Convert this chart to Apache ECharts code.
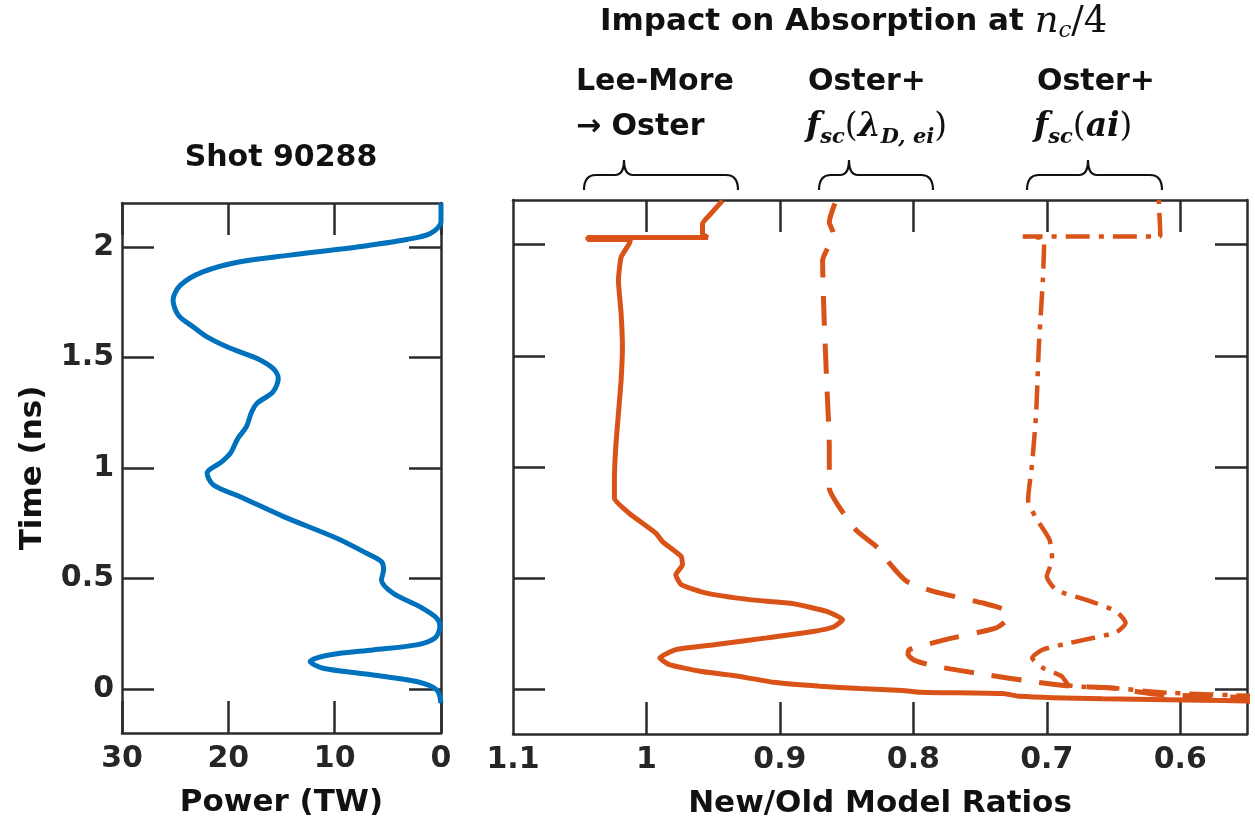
<!DOCTYPE html>
<html>
<head>
<meta charset="utf-8">
<script src="https://cdn.jsdelivr.net/npm/echarts@6/dist/echarts.min.js"></script>
<style>
  html, body { margin: 0; padding: 0; background: #ffffff; }
  #chart { width: 1255px; height: 831px; }
</style>
</head>
<body>
<div id="chart"></div>
<script>
// Laser power history of shot 90288 (time in ns, power in TW)
const powerTime = [-0.065, -0.005, 0.033, 0.063, 0.093, 0.124, 0.154, 0.176, 0.199, 0.229, 0.282, 0.320, 0.372, 0.433, 0.493, 0.538, 0.576, 0.614, 0.682, 0.780, 0.870, 0.923, 0.976, 1.029, 1.067, 1.134, 1.187, 1.255, 1.293, 1.345, 1.406, 1.451, 1.496, 1.542, 1.594, 1.639, 1.692, 1.760, 1.828, 1.888, 1.934, 1.964, 2.001, 2.035, 2.062, 2.115, 2.200];
const powerTW   = [0.0, 0.4, 2.3, 6.4, 11.1, 12.3, 10.4, 6.4, 2.3, 0.6, 0.1, 0.4, 2.0, 4.5, 5.6, 5.4, 5.6, 7.0, 9.8, 14.8, 18.9, 21.4, 22.0, 20.6, 19.8, 19.1, 18.3, 17.8, 17.3, 15.8, 15.3, 15.8, 17.3, 19.8, 22.0, 23.3, 24.7, 25.2, 24.5, 22.4, 18.9, 14.2, 7.9, 3.2, 1.0, 0.0, 0.0];

// New/old absorption ratio at n_c/4: Lee-More -> Oster
const leeMoreTime  = [-0.056, -0.052, -0.048, -0.042, -0.030, -0.018, -0.012, -0.004, 0.004, 0.015, 0.033, 0.063, 0.082, 0.112, 0.142, 0.179, 0.202, 0.232, 0.261, 0.281, 0.314, 0.351, 0.386, 0.404, 0.433, 0.471, 0.516, 0.561, 0.598, 0.665, 0.703, 0.792, 0.859, 0.942, 1.091, 1.241, 1.390, 1.540, 1.689, 1.839, 1.943, 2.003, 2.022, 2.022, 2.032, 2.032, 2.048, 2.093, 2.150, 2.197];
const leeMoreRatio = [0.540, 0.551, 0.583, 0.658, 0.721, 0.733, 0.795, 0.808, 0.840, 0.870, 0.905, 0.935, 0.960, 0.983, 0.990, 0.978, 0.948, 0.910, 0.875, 0.860, 0.853, 0.865, 0.890, 0.923, 0.955, 0.974, 0.978, 0.973, 0.974, 0.988, 0.993, 1.013, 1.024, 1.024, 1.023, 1.021, 1.019, 1.018, 1.019, 1.021, 1.019, 1.013, 1.012, 1.044, 1.044, 0.954, 0.958, 0.958, 0.950, 0.943];

// Oster + f_sc(lambda_D,ei)
const debyeTime  = [-0.037, -0.030, -0.020, 0.007, 0.015, 0.033, 0.067, 0.104, 0.131, 0.157, 0.179, 0.224, 0.277, 0.322, 0.359, 0.389, 0.441, 0.486, 0.561, 0.628, 0.717, 0.815, 0.904, 1.091, 1.390, 1.689, 1.928, 2.000, 2.050, 2.100, 2.197];
const debyeRatio = [0.540, 0.583, 0.620, 0.651, 0.683, 0.708, 0.746, 0.783, 0.799, 0.804, 0.803, 0.776, 0.738, 0.729, 0.732, 0.748, 0.785, 0.805, 0.817, 0.825, 0.843, 0.855, 0.863, 0.863, 0.865, 0.867, 0.868, 0.863, 0.860, 0.863, 0.858];

// Oster + f_sc(ai)
const ionTime  = [-0.030, -0.015, 0.007, 0.018, 0.060, 0.097, 0.142, 0.179, 0.209, 0.257, 0.299, 0.351, 0.404, 0.448, 0.508, 0.583, 0.673, 0.770, 0.852, 1.017, 1.241, 1.540, 1.839, 2.018, 2.030, 2.036, 2.036, 2.048, 2.190, 2.200];
const ionRatio = [0.540, 0.608, 0.651, 0.683, 0.689, 0.703, 0.711, 0.703, 0.683, 0.648, 0.641, 0.648, 0.671, 0.693, 0.700, 0.696, 0.698, 0.708, 0.714, 0.711, 0.708, 0.706, 0.703, 0.702, 0.703, 0.718, 0.615, 0.615, 0.616, 0.616];

// Tick positions and labels
const powerTicks = [0, 10, 20, 30];
const timeTicks  = [0, 0.5, 1, 1.5, 2];
const ratioTicks = [0.6, 0.7, 0.8, 0.9, 1.0];
const ratioLabelValues = [0.6, 0.7, 0.8, 0.9, 1.0, 1.1];

const pairs = (xs, ys) => xs.map((x, i) => [x, ys[i]]);

const FRAME = '#2b2b2b';
const SANS = '"DejaVu Sans", "Liberation Sans", sans-serif';
const SERIF = '"DejaVu Serif", "Liberation Serif", serif';
const fmt = v => String(Math.round(v * 100) / 100);

function axis(opts) {
  const a = {
    type: 'value',
    gridIndex: opts.grid,
    position: opts.position,
    min: opts.min,
    max: opts.max,
    inverse: !!opts.inverse,
    splitLine: { show: false },
    axisLine: { show: true, onZero: false, lineStyle: { color: FRAME, width: 2.5 } },
    axisTick: {
      show: true, inside: true, length: 32,
      customValues: opts.ticks,
      lineStyle: { color: FRAME, width: 2.5 }
    },
    axisLabel: { show: false }
  };
  if (opts.labels) {
    a.axisLabel = {
      show: true,
      customValues: opts.labels,
      formatter: fmt,
      color: '#262626',
      fontFamily: SANS,
      fontWeight: 'bold',
      fontSize: 30,
      margin: opts.margin
    };
  }
  if (opts.name) {
    a.name = opts.name;
    a.nameLocation = 'middle';
    a.nameGap = opts.nameGap;
    a.nameTextStyle = { color: '#111', fontFamily: SANS, fontWeight: 'bold', fontSize: 31 };
  }
  return a;
}

const mathRich = {
  b: { fontFamily: SANS, fontWeight: 'bold', fontSize: 31, fill: '#111', lineHeight: 42 },
  m: { fontFamily: SERIF, fontStyle: 'italic', fontWeight: 'bold', fontSize: 33, fill: '#111', lineHeight: 42 },
  s: { fontFamily: SERIF, fontStyle: 'italic', fontWeight: 'bold', fontSize: 21, fill: '#111', lineHeight: 21, verticalAlign: 'bottom' },
  p: { fontFamily: SERIF, fontSize: 33, fill: '#111', lineHeight: 42 },
  tm: { fontFamily: SERIF, fontStyle: 'italic', fontSize: 37, fill: '#111', lineHeight: 42 },
  ts: { fontFamily: SERIF, fontStyle: 'italic', fontSize: 23, fill: '#111', lineHeight: 23, verticalAlign: 'bottom' },
  tp: { fontFamily: SERIF, fontSize: 37, fill: '#111', lineHeight: 42 }
};

function label(x, y, text, align) {
  return {
    type: 'text', x: x, y: y, silent: true,
    style: {
      text: text, rich: mathRich,
      font: 'bold 30px ' + SANS, fill: '#111',
      align: align || 'left', verticalAlign: 'middle'
    }
  };
}

const chart = echarts.init(document.getElementById('chart'), null, { renderer: 'canvas' });

chart.setOption({
  animation: false,
  backgroundColor: '#ffffff',
  grid: [
    { left: 122, top: 203, width: 319, height: 530 },
    { left: 513, top: 200, width: 734, height: 534 }
  ],
  xAxis: [
    axis({ grid: 0, position: 'bottom', min: 0, max: 30, inverse: true, ticks: powerTicks, labels: powerTicks, margin: 11, name: 'Power (TW)', nameGap: 54 }),
    axis({ grid: 0, position: 'top', min: 0, max: 30, inverse: true, ticks: powerTicks }),
    axis({ grid: 1, position: 'bottom', min: 0.55, max: 1.1, inverse: true, ticks: ratioTicks, labels: ratioLabelValues, margin: 11, name: 'New/Old Model Ratios', nameGap: 54 }),
    axis({ grid: 1, position: 'top', min: 0.55, max: 1.1, inverse: true, ticks: ratioTicks })
  ],
  yAxis: [
    axis({ grid: 0, position: 'left', min: -0.2, max: 2.2, ticks: timeTicks, labels: timeTicks, margin: 8, name: 'Time (ns)', nameGap: 74 }),
    axis({ grid: 0, position: 'right', min: -0.2, max: 2.2, ticks: timeTicks }),
    axis({ grid: 1, position: 'left', min: -0.2, max: 2.2, ticks: timeTicks }),
    axis({ grid: 1, position: 'right', min: -0.2, max: 2.2, ticks: timeTicks })
  ],
  series: [
    {
      name: 'Shot 90288', type: 'line', xAxisIndex: 0, yAxisIndex: 0,
      data: pairs(powerTW, powerTime), showSymbol: false, smooth: 0.3,
      lineStyle: { color: '#0072BD', width: 5 }
    },
    {
      name: 'Lee-More to Oster', type: 'line', xAxisIndex: 2, yAxisIndex: 2,
      data: pairs(leeMoreRatio, leeMoreTime), showSymbol: false, smooth: 0.15,
      lineStyle: { color: '#D95319', width: 5 }
    },
    {
      name: 'Oster+ fsc(lambda_D,ei)', type: 'line', xAxisIndex: 2, yAxisIndex: 2,
      data: pairs(debyeRatio, debyeTime), showSymbol: false, smooth: 0.2,
      lineStyle: { color: '#D95319', width: 5, type: [30, 18], cap: 'butt' }
    },
    {
      name: 'Oster+ fsc(ai)', type: 'line', xAxisIndex: 2, yAxisIndex: 2,
      data: pairs(ionRatio, ionTime), showSymbol: false, smooth: 0.2,
      lineStyle: { color: '#D95319', width: 4.5, type: [24, 9, 5, 9], cap: 'butt' }
    }
  ],
  graphic: [
    label(281, 158, 'Shot 90288', 'center'),
    label(600, 22, '{b|Impact on Absorption at }{tm|n}{ts|c}{tp|/4}'),
    label(576, 82, 'Lee-More'),
    label(576, 127, '\u2192 Oster'),
    label(808, 82, 'Oster+'),
    label(806, 127, '{m|f}{s|sc}{p|(}{m|\u03bb}{s|D, ei}{p|)}'),
    label(1037, 82, 'Oster+'),
    label(1034, 127, '{m|f}{s|sc}{p|(}{m|ai}{p|)}')
  ]
});

// Curly braces grouping the three model comparisons
function braceData(x0, x1, peak) {
  const yTop = 160, yMid = 175, yBot = 190, r = 12;
  return 'M' + x0 + ' ' + yBot +
    ' Q' + x0 + ' ' + yMid + ' ' + (x0 + r) + ' ' + yMid +
    ' L' + (peak - 9) + ' ' + yMid +
    ' Q' + peak + ' ' + yMid + ' ' + peak + ' ' + yTop +
    ' Q' + peak + ' ' + yMid + ' ' + (peak + 9) + ' ' + yMid +
    ' L' + (x1 - r) + ' ' + yMid +
    ' Q' + x1 + ' ' + yMid + ' ' + x1 + ' ' + yBot;
}
[[584, 738, 624], [819, 933, 849], [1027, 1162, 1088]].forEach(b => {
  const p = echarts.graphic.makePath(braceData(b[0], b[1], b[2]), {
    style: { stroke: '#111', lineWidth: 2.2, fill: null },
    silent: true
  });
  chart.getZr().add(p);
});
</script>
</body>
</html>
